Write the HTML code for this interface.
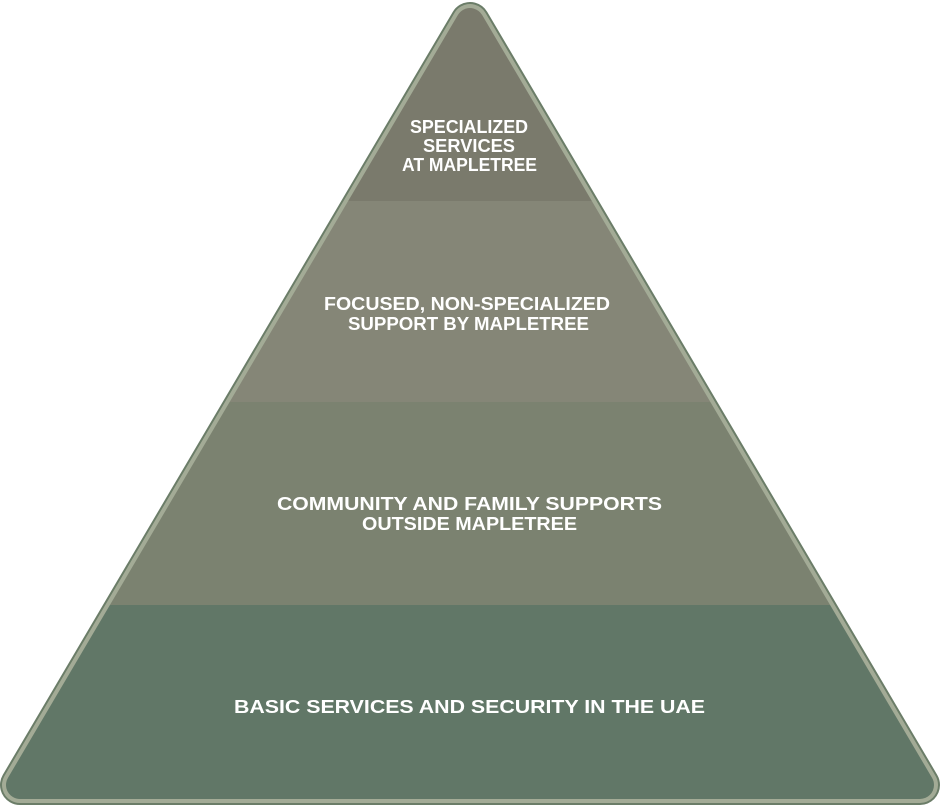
<!DOCTYPE html>
<html>
<head>
<meta charset="utf-8">
<style>
  html, body { margin: 0; padding: 0; background: #ffffff; }
  body { width: 940px; height: 807px; overflow: hidden; }
  svg { display: block; }
  text { font-family: "Liberation Sans", "DejaVu Sans", sans-serif; font-weight: bold; font-size: 18.5px; fill: #ffffff; }
</style>
</head>
<body>
<svg width="940" height="807" viewBox="0 0 940 807" xmlns="http://www.w3.org/2000/svg">
  <defs>
    <mask id="inner">
      <rect x="0" y="0" width="940" height="807" fill="black"/>
      <polygon points="470,22 20,785 920,785" fill="white" stroke="white" stroke-width="28" stroke-linejoin="round"/>
    </mask>
  </defs>
  <!-- outer dark edge -->
  <polygon points="470,22 20,785 920,785" fill="#6b7d68" stroke="#6b7d68" stroke-width="40" stroke-linejoin="round"/>
  <!-- light band -->
  <polygon points="470,22 20,785 920,785" fill="#a3ab96" stroke="#a3ab96" stroke-width="36" stroke-linejoin="round"/>
  <!-- inner bands -->
  <g mask="url(#inner)">
    <rect x="0" y="0" width="940" height="201" fill="#7a7a6c"/>
    <rect x="0" y="201" width="940" height="201" fill="#858677"/>
    <rect x="0" y="402" width="940" height="203" fill="#7b8270"/>
    <rect x="0" y="605" width="940" height="202" fill="#617767"/>
  </g>

  <!-- labels -->
  <text x="410" y="133" textLength="118" lengthAdjust="spacingAndGlyphs">SPECIALIZED</text>
  <text x="423" y="152" textLength="92" lengthAdjust="spacingAndGlyphs">SERVICES</text>
  <text x="402" y="171" textLength="135" lengthAdjust="spacingAndGlyphs">AT MAPLETREE</text>

  <text x="324" y="310" textLength="286" lengthAdjust="spacingAndGlyphs">FOCUSED, NON-SPECIALIZED</text>
  <text x="348" y="330" textLength="241" lengthAdjust="spacingAndGlyphs">SUPPORT BY MAPLETREE</text>

  <text x="277" y="510" textLength="385" lengthAdjust="spacingAndGlyphs">COMMUNITY AND FAMILY SUPPORTS</text>
  <text x="362" y="530" textLength="215" lengthAdjust="spacingAndGlyphs">OUTSIDE MAPLETREE</text>

  <text x="234" y="713" textLength="471" lengthAdjust="spacingAndGlyphs">BASIC SERVICES AND SECURITY IN THE UAE</text>
</svg>
</body>
</html>
